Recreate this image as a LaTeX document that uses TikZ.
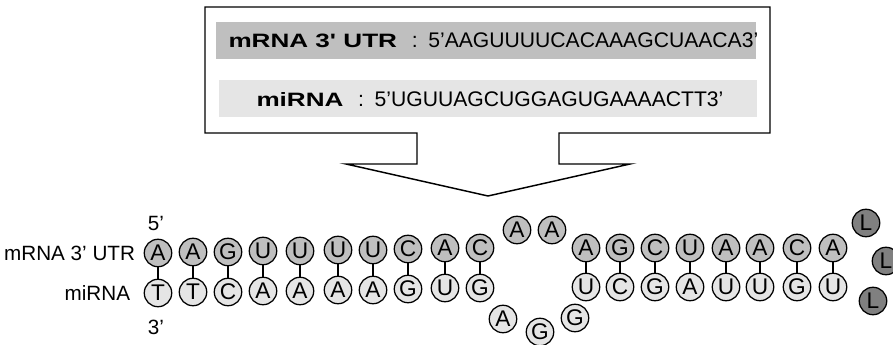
\documentclass[tikz,border=0pt]{standalone}
\usepackage{fontspec}
\setmainfont{Liberation Sans}
\newfontfamily\namefont[FakeStretch=1.35]{Liberation Sans}
\usepackage{tikz}
\usepackage{xcolor}
\tikzset{every picture/.style={line width=0.75pt}}
\definecolor{utrgray}{RGB}{191,191,191}
\definecolor{mirgray}{RGB}{229,229,229}
\definecolor{lnkgray}{RGB}{128,128,128}
\tikzset{
  base/.style={circle, draw, line width=0.95pt, inner sep=0pt, minimum size=20.6pt, font=\fontsize{17}{17}\selectfont},
  utr/.style={base, fill=utrgray},
  mir/.style={base, fill=mirgray},
  lnk/.style={base, fill=lnkgray},
  pair/.style={line width=1.1pt},
  lab/.style={font=\fontsize{15.5}{16}\selectfont},
  bar/.style={anchor=west, inner sep=0pt},
}
\newcommand{\seqname}[1]{{\namefont\fontsize{14.5}{15}\selectfont\bfseries #1}}
\newcommand{\seqtext}[1]{{\fontsize{15.85}{16}\selectfont\hspace{11pt}:\hspace{8pt}#1}}

\begin{document}
\begin{tikzpicture}[x=0.75pt,y=0.75pt,yscale=-1,xscale=1]
\useasboundingbox (0,0) rectangle (893,345);

%Shape: Box with arrow
\draw [line width=1.1pt] (417,133) -- (205,133) -- (205,7) -- (770,7) -- (770,133) -- (559,133) -- (559,164) -- (630,164) -- (488,196) -- (346,164) -- (417,164) -- cycle ;
%Shape: Rectangle
\fill [utrgray] (216,22) rectangle (756,59) ;
%Shape: Rectangle
\fill [mirgray] (219,80) rectangle (757,117) ;

% Text Node
\node (sequtr) [bar] at (228,40.5) {\seqname{mRNA 3' UTR}\seqtext{5'AAGUUUUCACAAAGCUAACA3'}};
% Text Node
\node (seqmir) [bar] at (256,99) {\seqname{miRNA}\seqtext{5'UGUUAGCUGGAGUGAAAACTT3'}};

% Text Node
\node (lbutr) [lab, anchor=east] at (140,253) {mRNA 3' UTR};
% Text Node
\node (lbmir) [lab, anchor=east] at (135,293) {miRNA};
% Text Node
\node (end5) [lab] at (156,223) {5'};
% Text Node
\node (end3) [lab] at (156,327) {3'};

%Shape: Circle (mRNA, first stem)
\node (m1) [utr] at (158,253) {A};
\node (m2) [utr] at (193,252) {A};
\node (m3) [utr] at (228,252) {G};
\node (m4) [utr] at (263,251) {U};
\node (m5) [utr] at (300,251) {U};
\node (m6) [utr] at (338,250) {U};
\node (m7) [utr] at (373,250) {U};
\node (m8) [utr] at (408,249) {C};
\node (m9) [utr] at (445,248) {A};
\node (m10) [utr] at (480,248) {C};
%Shape: Circle (miRNA, first stem)
\node (r1) [mir] at (158,293) {T};
\node (r2) [mir] at (193,292) {T};
\node (r3) [mir] at (228,292) {C};
\node (r4) [mir] at (263,291) {A};
\node (r5) [mir] at (300,291) {A};
\node (r6) [mir] at (338,290) {A};
\node (r7) [mir] at (373,290) {A};
\node (r8) [mir] at (408,289) {G};
\node (r9) [mir] at (445,288) {U};
\node (r10) [mir] at (480,288) {G};

%Shape: Circle (bulge)
\node (m11) [utr] at (517,230) {A};
\node (m12) [utr] at (552,230) {A};
\node (r11) [mir] at (503,319) {A};
\node (r12) [mir] at (540,332) {G};
\node (r13) [mir] at (575,318) {G};

%Shape: Circle (mRNA, second stem)
\node (m13) [utr] at (586,248) {A};
\node (m14) [utr] at (620,248) {G};
\node (m15) [utr] at (655,248) {C};
\node (m16) [utr] at (690,248) {U};
\node (m17) [utr] at (726,248) {A};
\node (m18) [utr] at (760,248) {A};
\node (m19) [utr] at (797,248) {C};
\node (m20) [utr] at (833,248) {A};
%Shape: Circle (miRNA, second stem)
\node (r14) [mir] at (586,287) {U};
\node (r15) [mir] at (620,287) {C};
\node (r16) [mir] at (655,287) {G};
\node (r17) [mir] at (690,287) {A};
\node (r18) [mir] at (726,287) {U};
\node (r19) [mir] at (760,287) {U};
\node (r20) [mir] at (797,287) {G};
\node (r21) [mir] at (833,287) {U};

%Shape: Circle (loop)
\node (l1) [lnk] at (866,223) {L};
\node (l2) [lnk] at (886,261) {L};
\node (l3) [lnk] at (873,301) {L};

%Straight Lines (pairs)
\draw [pair] (m1) -- (r1) ;
\draw [pair] (m2) -- (r2) ;
\draw [pair] (m3) -- (r3) ;
\draw [pair] (m4) -- (r4) ;
\draw [pair] (m5) -- (r5) ;
\draw [pair] (m6) -- (r6) ;
\draw [pair] (m7) -- (r7) ;
\draw [pair] (m8) -- (r8) ;
\draw [pair] (m9) -- (r9) ;
\draw [pair] (m10) -- (r10) ;
\draw [pair] (m13) -- (r14) ;
\draw [pair] (m14) -- (r15) ;
\draw [pair] (m15) -- (r16) ;
\draw [pair] (m16) -- (r17) ;
\draw [pair] (m17) -- (r18) ;
\draw [pair] (m18) -- (r19) ;
\draw [pair] (m19) -- (r20) ;
\draw [pair] (m20) -- (r21) ;

\end{tikzpicture}
\end{document}
